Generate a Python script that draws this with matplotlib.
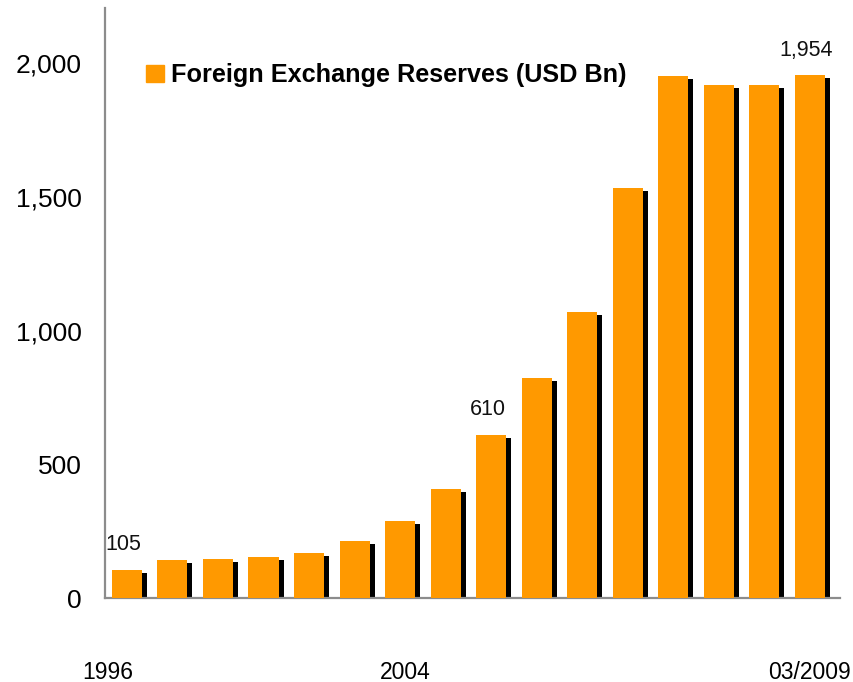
import matplotlib
matplotlib.use("Agg")
import matplotlib.pyplot as plt
from matplotlib.patches import Patch

plt.rcParams['font.family'] = ['Liberation Sans', 'DejaVu Sans']

# Foreign exchange reserves, USD bn (annual 1996-2008, then quarterly to 03/2009)
reserves = [105, 143, 145, 155, 168, 213, 288, 407, 610, 822, 1069, 1533, 1951, 1918, 1918, 1954]
label_idx = [0, 8, 15]           # bars that carry a value label
tick_pos = [-0.42, 6.12, 15.0]
tick_labels = ['1996', '2004', '03/2009']

orange = '#FF9900'
x = list(range(len(reserves)))
bar_w = 0.66

fig = plt.figure(figsize=(8.54, 6.82), dpi=100)
ax = fig.add_axes([0.123, 0.123, 0.861, 0.865])

# black drop shadow sits behind each bar, shifted right and down a touch
ax.bar([i + 0.11 for i in x], [v - 11 for v in reserves], width=bar_w,
       color='black', zorder=2)
ax.bar(x, reserves, width=bar_w, color=orange, zorder=3)

for i in label_idx:
    ax.text(x[i] - 0.08, reserves[i] + 55, f"{reserves[i]:,}",
            ha='center', va='bottom', fontsize=15.5, color='#111111')

ax.set_xlim(-0.48, 15.67)
ax.set_ylim(0, 2205)
ax.set_yticks([0, 500, 1000, 1500, 2000])
ax.set_yticklabels(['0', '500', '1,000', '1,500', '2,000'], fontsize=19)
ax.set_xticks(tick_pos)
ax.set_xticklabels(tick_labels, fontsize=16.5)
ax.tick_params(axis='y', length=0, pad=17)
ax.tick_params(axis='x', length=0, pad=45)

for side in ['top', 'right']:
    ax.spines[side].set_visible(False)
for side in ['left', 'bottom']:
    ax.spines[side].set_color('#8c8c8c')
    ax.spines[side].set_linewidth(1.6)

leg = ax.legend(handles=[Patch(color=orange, label='Foreign Exchange Reserves (USD Bn)')],
                loc='upper left', bbox_to_anchor=(0.025, 0.945), frameon=False,
                handlelength=0.7, handleheight=0.7, handletextpad=0.3,
                prop={'size': 18.2, 'weight': 'bold'})

fig.savefig('out.png', dpi=100)
